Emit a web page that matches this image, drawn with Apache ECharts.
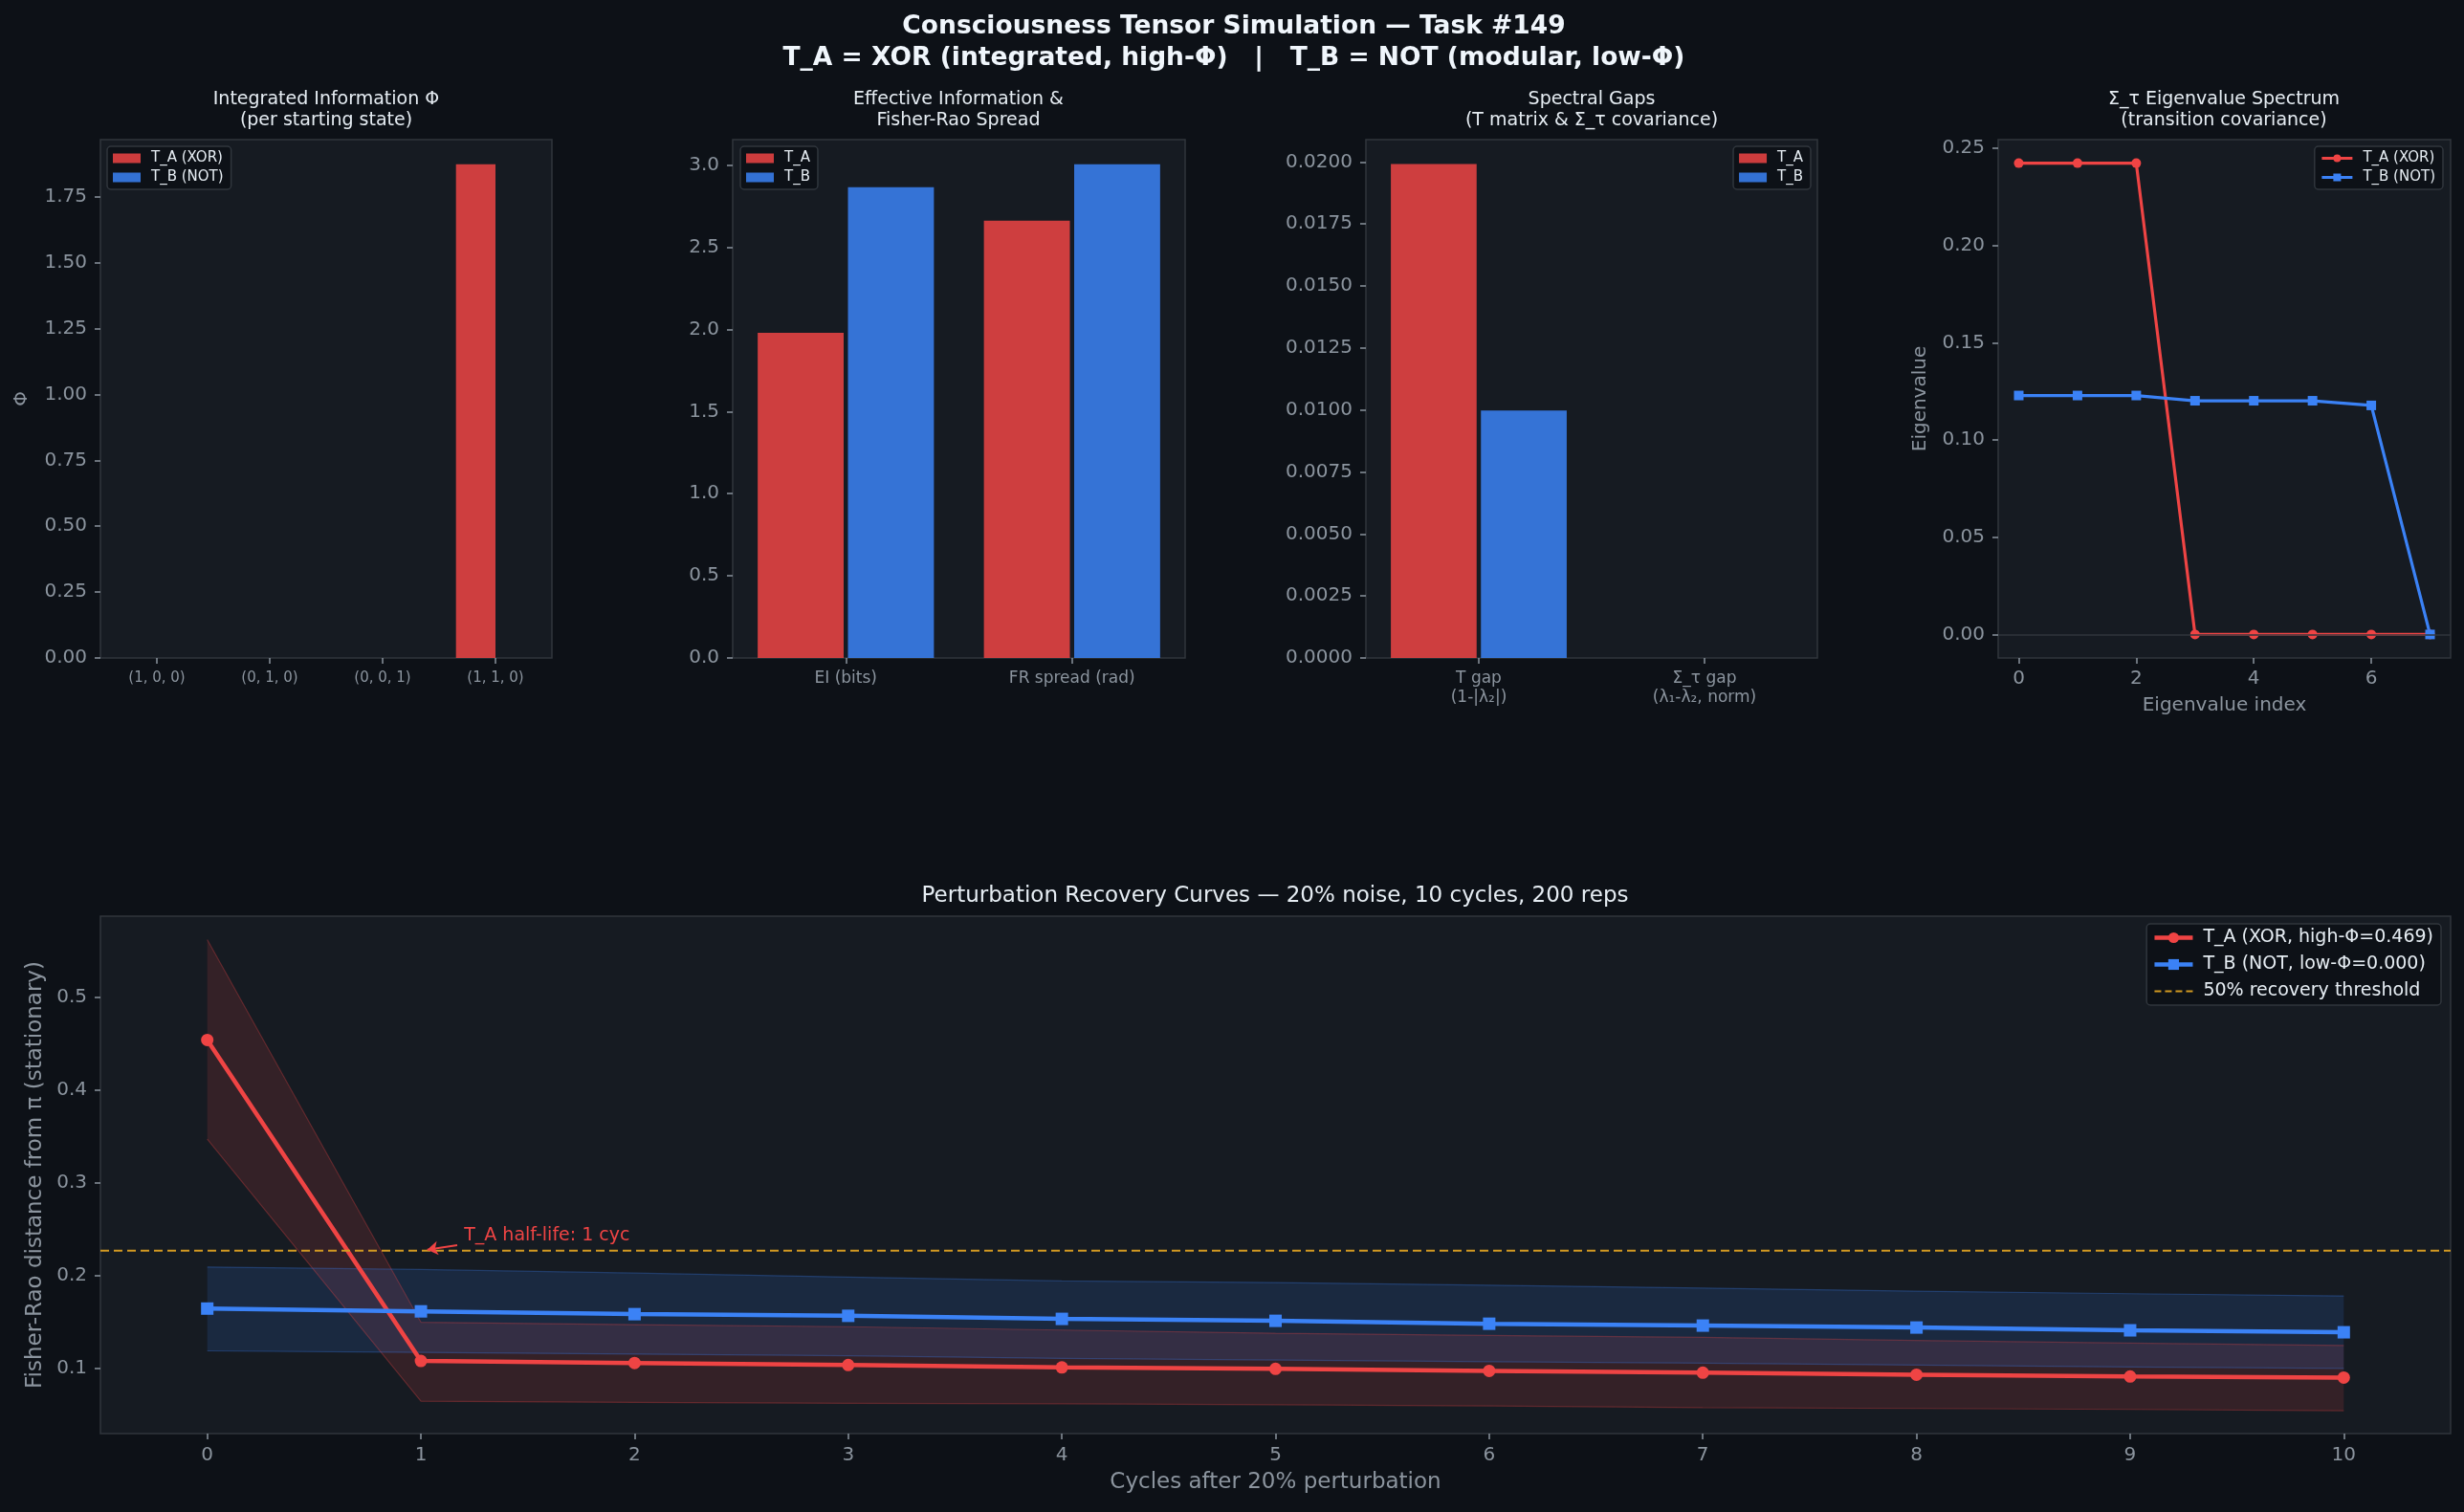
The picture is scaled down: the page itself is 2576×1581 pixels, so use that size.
<!DOCTYPE html>
<html>
<head>
<meta charset="utf-8">
<title>Consciousness Tensor Simulation — Task #149</title>
<script src="https://cdn.jsdelivr.net/npm/echarts@6/dist/echarts.min.js"></script>
<style>
  html, body { margin: 0; padding: 0; background: #0d1117; }
  #chart { width: 2576px; height: 1581px; }
</style>
</head>
<body>
<div id="chart"></div>
<script>
// values
const PHI_STATES = ['(1, 0, 0)', '(0, 1, 0)', '(0, 0, 1)', '(1, 1, 0)']
const PHI_A = [0, 0, 0, 1.874]
const PHI_B = [0, 0, 0, 0]
const PHI_TICKS = [0, 0.25, 0.5, 0.75, 1, 1.25, 1.5, 1.75]

const EI_CATS = ['EI (bits)', 'FR spread (rad)']
const EI_A = [1.979, 2.661]
const EI_B = [2.866, 3.005]
const EI_TICKS = [0, 0.5, 1, 1.5, 2, 2.5, 3]

const GAP_CATS = ['T gap\n(1-|λ₂|)', 'Σ_τ gap\n(λ₁-λ₂, norm)']
const GAP_A = [0.01992, 0]
const GAP_B = [0.00998, 0]
const GAP_TICKS = [0, 0.0025, 0.005, 0.0075, 0.01, 0.0125, 0.015, 0.0175, 0.02]

const EIG_INDEX = [0, 1, 2, 3, 4, 5, 6, 7]
const EIG_A = [0.2424, 0.2424, 0.2424, 0, 0, 0, 0, 0]
const EIG_B = [0.1229, 0.1229, 0.1229, 0.1202, 0.1202, 0.1202, 0.1178, 0]
const EIG_X_TICKS = [0, 2, 4, 6]
const EIG_Y_TICKS = [0, 0.05, 0.1, 0.15, 0.2, 0.25]

const CYCLES = ['0', '1', '2', '3', '4', '5', '6', '7', '8', '9', '10']
const REC_A = [0.4536, 0.1082, 0.1061, 0.1039, 0.1013, 0.0997, 0.0976, 0.0956, 0.0935, 0.0915, 0.0904]
const REC_A_HI = [0.5616, 0.1499, 0.1473, 0.1451, 0.1415, 0.1381, 0.1357, 0.1336, 0.1302, 0.1274, 0.1250]
const REC_A_LO = [0.3469, 0.0649, 0.0636, 0.0627, 0.0622, 0.0612, 0.0599, 0.0581, 0.0571, 0.0561, 0.0547]
const REC_B = [0.1646, 0.1616, 0.1586, 0.1568, 0.1535, 0.1514, 0.1483, 0.1463, 0.1442, 0.1412, 0.1391]
const REC_B_HI = [0.2093, 0.2067, 0.2028, 0.1985, 0.1943, 0.1926, 0.1898, 0.1867, 0.1833, 0.1806, 0.1782]
const REC_B_LO = [0.1191, 0.1174, 0.1156, 0.1139, 0.1110, 0.1093, 0.1075, 0.1059, 0.1038, 0.1017, 0.1003]
const REC_Y_TICKS = [0.1, 0.2, 0.3, 0.4, 0.5]
const REC_X_EXTENT = [-0.5, 10.5]
const THRESHOLD = 0.227

const NOTE_TEXT = 'T_A half-life: 1 cyc'
const NOTE_TEXT_AT = [1.2, 0.2435]
const NOTE_ARROW_FROM = [1.17, 0.2327]
const NOTE_ARROW_TO = [1.03, 0.228]

const LABELS = {
  phi_A: 'T_A (XOR)', phi_B: 'T_B (NOT)',
  ei_A: 'T_A', ei_B: 'T_B',
  gap_A: 'T_A', gap_B: 'T_B',
  eig_A: 'T_A (XOR)', eig_B: 'T_B (NOT)',
  rec_A: 'T_A (XOR, high-Φ=0.469)', rec_B: 'T_B (NOT, low-Φ=0.000)',
  thr: '50% recovery threshold',
}

const FONT = 'DejaVu Sans'
const C = {
  bg: '#0d1117', panel: '#161b22', spine: '#30363d', tick: '#8b949e',
  text: '#e6edf3', red: '#ef4444', blue: '#3b82f6', gold: '#d29922',
}

// dashed legend swatch (tiny corner specks keep the 40x14 box)
const DASH_ICON = 'path://M0,0h0.01v0.01h-0.01zM0,6h7v2h-7zM11,6h7v2h-7zM22,6h7v2h-7zM33,6h7v2h-7zM40,14h-0.01v-0.01h0.01z'

const grids = [
  { left: 105, top: 146, width: 472, height: 542 },
  { left: 766, top: 146, width: 473, height: 542 },
  { left: 1428, top: 146, width: 472, height: 542 },
  { left: 2089, top: 146, width: 473, height: 542 },
  { left: 105, top: 958, width: 2457, height: 541 },
].map((g) => ({ ...g, show: true, backgroundColor: C.panel, borderColor: C.spine, borderWidth: 1.5, containLabel: false, outerBoundsMode: 'none' }))

const tickStyle = { show: true, length: 6, lineStyle: { color: C.tick, width: 1.5 } }
const noLine = { show: false, onZero: false }

function valueAxis(grid, min, max, ticks, digits, extra = {}) {
  return {
    type: 'value', gridIndex: grid, min, max,
    axisLine: noLine, splitLine: { show: false },
    axisTick: { ...tickStyle, customValues: ticks },
    axisLabel: { color: C.tick, fontSize: 20, margin: 14, customValues: ticks, formatter: (v) => Number(v).toFixed(digits) },
    nameTextStyle: { color: C.tick, fontSize: 20 },
    ...extra,
  }
}

function categoryAxis(grid, data, fontSize, extra = {}) {
  return {
    type: 'category', gridIndex: grid, data,
    axisLine: noLine, splitLine: { show: false },
    axisTick: { ...tickStyle, alignWithLabel: true },
    axisLabel: { color: C.tick, fontSize, lineHeight: fontSize + 3, margin: 12, interval: 0 },
    ...extra,
  }
}

function bar(name, axis, data, color, width, gap) {
  return {
    type: 'bar', name, xAxisIndex: axis, yAxisIndex: axis, data,
    barWidth: width, barGap: gap, silent: true,
    itemStyle: { color, opacity: 0.85 },
  }
}

function legendBox(pos, names, fontSize, iw, ih, gap, line) {
  return {
    ...pos, orient: 'vertical', data: names, selectedMode: false,
    icon: line ? undefined : 'rect',
    itemWidth: iw, itemHeight: ih, itemGap: gap,
    padding: [5, 8, 5, 6],
    backgroundColor: C.bg, borderColor: C.spine, borderWidth: 1.5, borderRadius: 4,
    lineStyle: { width: 'inherit' },
    formatter: (n) => LABELS[n],
    textStyle: { color: C.text, fontSize, padding: [0, 0, 0, 6] },
  }
}

function band(key, lo, hi, rgb) {
  return [
    {
      type: 'line', name: key + '_lo', xAxisIndex: 4, yAxisIndex: 4, stack: key, data: lo,
      symbol: 'none', silent: true, lineStyle: { color: `rgba(${rgb},0.3)`, width: 1.2 },
    },
    {
      type: 'line', name: key + '_hi', xAxisIndex: 4, yAxisIndex: 4, stack: key,
      data: hi.map((v, i) => +(v - lo[i]).toFixed(4)),
      symbol: 'none', silent: true, lineStyle: { color: `rgba(${rgb},0.3)`, width: 1.2 },
      areaStyle: { color: `rgba(${rgb},0.2)` },
    },
  ]
}

const panelTitle = (x, text) => ({
  text, left: x, top: 93, textAlign: 'center', padding: 0,
  textStyle: { color: C.text, fontSize: 19, fontWeight: 'normal', lineHeight: 22 },
})

const option = {
  backgroundColor: C.bg,
  animation: false,
  textStyle: { fontFamily: FONT },
  title: [
    {
      text: 'Consciousness Tensor Simulation — Task #149\nT_A = XOR (integrated, high-Φ)   |   T_B = NOT (modular, low-Φ)',
      left: 1290, top: 12, textAlign: 'center', padding: 0,
      textStyle: { color: '#f0f6fc', fontSize: 26.5, fontWeight: 'bold', lineHeight: 33 },
    },
    panelTitle(341, 'Integrated Information Φ\n(per starting state)'),
    panelTitle(1002, 'Effective Information &\nFisher-Rao Spread'),
    panelTitle(1664, 'Spectral Gaps\n(T matrix & Σ_τ covariance)'),
    panelTitle(2325, 'Σ_τ Eigenvalue Spectrum\n(transition covariance)'),
    {
      text: 'Perturbation Recovery Curves — 20% noise, 10 cycles, 200 reps',
      left: 1333, top: 925, textAlign: 'center', padding: 0,
      textStyle: { color: C.text, fontSize: 23, fontWeight: 'normal', lineHeight: 24 },
    },
  ],
  legend: [
    legendBox({ left: 112, top: 153 }, ['phi_A', 'phi_B'], 15, 29, 10, 5, false),
    legendBox({ left: 774, top: 153 }, ['ei_A', 'ei_B'], 15, 29, 10, 5, false),
    legendBox({ right: 683, top: 153 }, ['gap_A', 'gap_B'], 15, 29, 10, 5, false),
    legendBox({ right: 22, top: 153 }, ['eig_A', 'eig_B'], 15, 32, 10, 5, true),
    legendBox({ right: 24, top: 966 }, ['rec_A', 'rec_B', { name: 'thr', icon: DASH_ICON, itemStyle: { color: C.gold } }], 19, 40, 14, 9, true),
  ],
  grid: grids,
  xAxis: [
    categoryAxis(0, PHI_STATES, 15),
    categoryAxis(1, EI_CATS, 17),
    categoryAxis(2, GAP_CATS, 17),
    valueAxis(3, -0.35, 7.35, EIG_X_TICKS, 0, {
      name: 'Eigenvalue index', nameLocation: 'middle', nameGap: 40,
      axisLabel: { color: C.tick, fontSize: 20, margin: 12, customValues: EIG_X_TICKS },
    }),
    categoryAxis(4, CYCLES, 20, {
      name: 'Cycles after 20% perturbation', nameLocation: 'middle', nameGap: 40,
      nameTextStyle: { color: C.tick, fontSize: 23 },
      axisLabel: { color: C.tick, fontSize: 20, margin: 13, interval: 0 },
    }),
    { type: 'value', gridIndex: 4, min: REC_X_EXTENT[0], max: REC_X_EXTENT[1], show: false, axisLine: noLine },
  ],
  yAxis: [
    valueAxis(0, 0, 1.967, PHI_TICKS, 2, { name: 'Φ', nameLocation: 'middle', nameGap: 72, nameRotate: 90 }),
    valueAxis(1, 0, 3.155, EI_TICKS, 1),
    valueAxis(2, 0, 0.0209, GAP_TICKS, 4),
    valueAxis(3, -0.0121, 0.2545, EIG_Y_TICKS, 2, { name: 'Eigenvalue', nameLocation: 'middle', nameGap: 71, nameRotate: 90 }),
    valueAxis(4, 0.0301, 0.5868, REC_Y_TICKS, 1, {
      name: 'Fisher-Rao distance from π (stationary)', nameLocation: 'middle', nameGap: 56, nameRotate: 90,
      nameTextStyle: { color: C.tick, fontSize: 23 },
    }),
  ],
  series: [
    bar('phi_A', 0, PHI_A, C.red, '35%', '0%'),
    bar('phi_B', 0, PHI_B, C.blue, '35%', '0%'),
    bar('ei_A', 1, EI_A, C.red, '38%', '5%'),
    bar('ei_B', 1, EI_B, C.blue, '38%', '5%'),
    bar('gap_A', 2, GAP_A, C.red, '38%', '5%'),
    bar('gap_B', 2, GAP_B, C.blue, '38%', '5%'),
    {
      type: 'line', name: 'eig_A', xAxisIndex: 3, yAxisIndex: 3,
      data: EIG_INDEX.map((x, i) => [x, EIG_A[i]]),
      symbol: 'circle', symbolSize: 10, silent: true,
      lineStyle: { color: C.red, width: 3.2 }, itemStyle: { color: C.red },
    },
    {
      type: 'line', name: 'eig_B', xAxisIndex: 3, yAxisIndex: 3,
      data: EIG_INDEX.map((x, i) => [x, EIG_B[i]]),
      symbol: 'rect', symbolSize: 10, silent: true,
      lineStyle: { color: C.blue, width: 3.2 }, itemStyle: { color: C.blue },
      markLine: {
        silent: true, symbol: 'none', label: { show: false },
        lineStyle: { color: C.spine, width: 1.5, type: 'solid' },
        data: [{ yAxis: 0 }],
      },
    },
    ...band('bandA', REC_A_LO, REC_A_HI, '239,68,68'),
    ...band('bandB', REC_B_LO, REC_B_HI, '59,130,246'),
    {
      type: 'line', name: 'rec_A', xAxisIndex: 4, yAxisIndex: 4, data: REC_A,
      symbol: 'circle', symbolSize: 13, silent: true,
      lineStyle: { color: C.red, width: 4.5 }, itemStyle: { color: C.red },
    },
    {
      type: 'line', name: 'rec_B', xAxisIndex: 4, yAxisIndex: 4, data: REC_B,
      symbol: 'rect', symbolSize: 13, silent: true,
      lineStyle: { color: C.blue, width: 4.5 }, itemStyle: { color: C.blue },
    },
    {
      // 50% threshold drawn across the full x extent of the lower panel
      type: 'line', name: 'thr', xAxisIndex: 5, yAxisIndex: 4,
      data: REC_X_EXTENT.map((x) => [x, THRESHOLD]),
      symbol: 'none', silent: true,
      itemStyle: { color: C.gold },
      lineStyle: { color: C.gold, width: 2, type: [9, 5] },
    },
    {
      type: 'line', name: 'note', xAxisIndex: 5, yAxisIndex: 4, data: [],
      markLine: {
        silent: true, symbol: ['none', 'arrow'], symbolSize: 11, label: { show: false },
        lineStyle: { color: C.red, width: 2, type: 'solid' },
        data: [[{ coord: NOTE_ARROW_FROM }, { coord: NOTE_ARROW_TO }]],
      },
      markPoint: {
        silent: true, symbol: 'circle', symbolSize: 1, itemStyle: { color: 'rgba(0,0,0,0)' },
        label: { show: true, position: 'right', distance: 0, formatter: NOTE_TEXT, color: C.red, fontSize: 19 },
        data: [{ coord: NOTE_TEXT_AT }],
      },
    },
  ],
}

const chart = echarts.init(document.getElementById('chart'), null, { renderer: 'canvas' })
chart.setOption(option)
</script>
</body>
</html>
